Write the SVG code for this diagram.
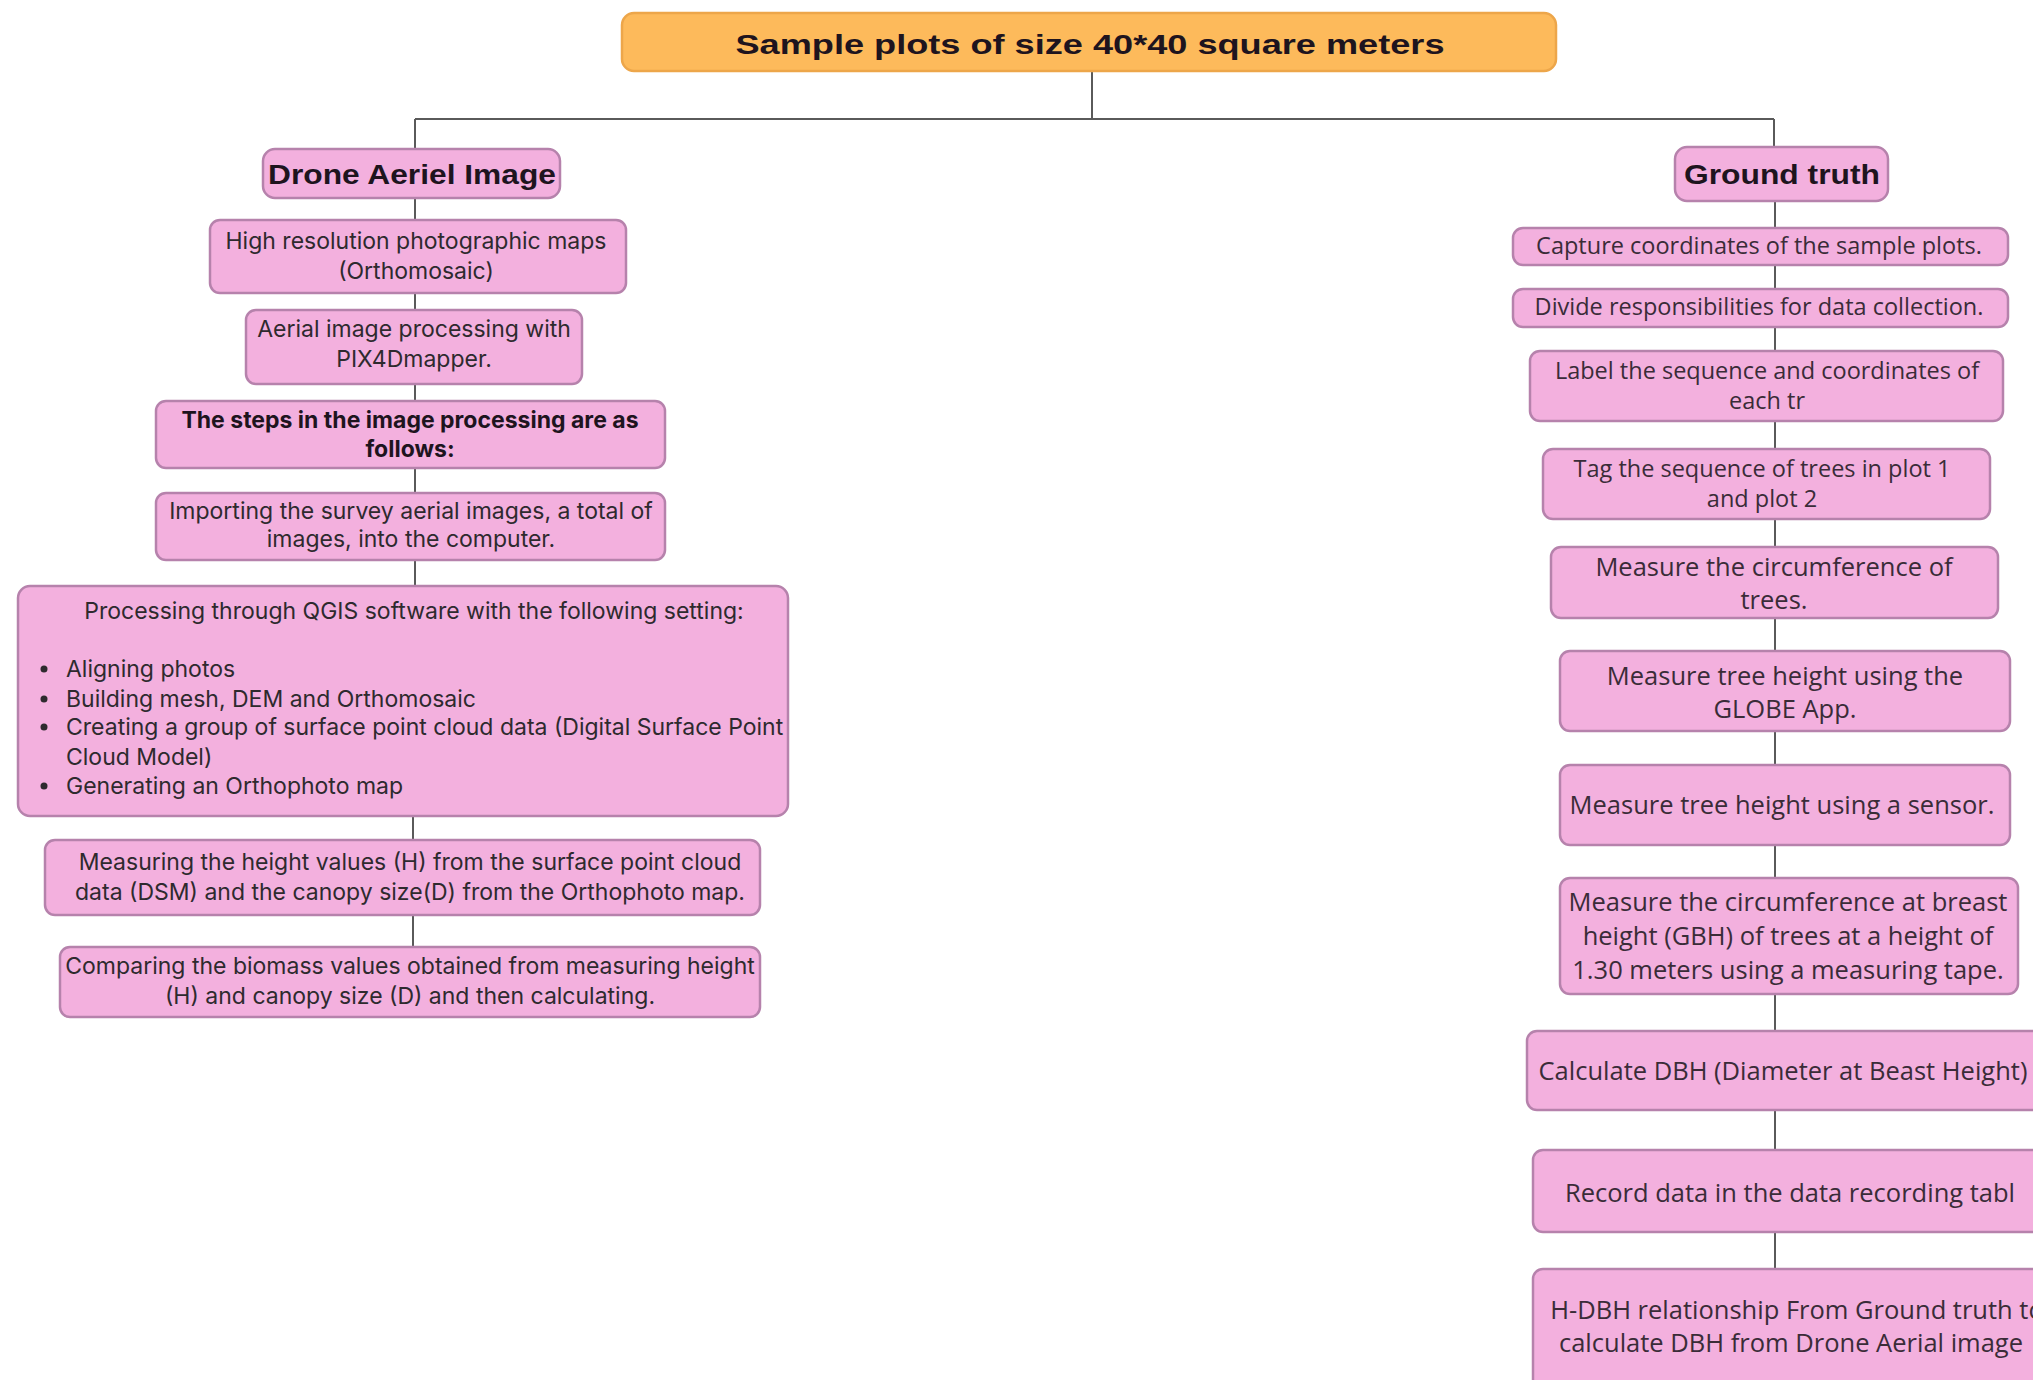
<svg xmlns="http://www.w3.org/2000/svg" width="2033" height="1380" viewBox="0 0 2033 1380">
<style>
.bg{fill:#ffffff}
.node{fill:#F3B0DE;stroke:#B682AC;stroke-width:2.5}
.top{fill:#FDBA5B;stroke:#EDA64A;stroke-width:2.5}
.conn{stroke:#5a5a5a;stroke-width:2;fill:none}
.t{font-family:Inter,"Liberation Sans",sans-serif;font-size:23px;fill:#2e2a2e;text-anchor:middle}
.tl{font-family:Inter,"Liberation Sans",sans-serif;font-size:23px;fill:#2e2a2e}
.r{font-family:"Open Sans","Liberation Sans",sans-serif;font-size:23.5px;fill:#3a2c38;text-anchor:middle}
.r2{font-family:"Open Sans","Liberation Sans",sans-serif;font-size:25.5px;fill:#3a2c38;text-anchor:middle}
.h{font-family:"Liberation Sans",Arial,sans-serif;font-weight:bold;font-size:28px;fill:#1e141e;text-anchor:middle}
.b{font-family:Inter,"Liberation Sans",sans-serif;font-weight:bold;font-size:23px;fill:#1e141e;text-anchor:middle}
</style>
<rect class="bg" x="0" y="0" width="2033" height="1380"/>
<g id="connectors">
<path class="conn" d="M1092 71 V119 M415 119 H1774 M415 119 V149 M1774 119 V147"/>
<path class="conn" d="M415 198 V220 M415 293 V310 M415 384 V401 M415 468 V493 M415 560 V586 M413 816 V840 M413 915 V947"/>
<path class="conn" d="M1775 201 V228 M1775 265 V289 M1775 327 V351 M1775 421 V449 M1775 519 V547 M1775 618 V651 M1775 731 V765 M1775 845 V878 M1775 994 V1031 M1775 1110 V1150 M1775 1232 V1269"/>
</g>
<g id="top">
<rect class="top" x="622" y="13" width="934" height="58" rx="12"/>
<text class="h" x="1090" y="54" font-size="31" textLength="709" lengthAdjust="spacingAndGlyphs">Sample plots of size 40*40 square meters</text>
</g>
<g id="drone">
<rect class="node" x="263" y="149" width="297" height="49" rx="12"/>
<text class="h" x="412" y="184" font-size="29" textLength="288" lengthAdjust="spacingAndGlyphs">Drone Aeriel Image</text>
</g>
<g id="l1">
<rect class="node" x="210" y="220" width="416" height="73" rx="10"/>
<text class="t" x="416" y="249">High resolution photographic maps</text>
<text class="t" x="416" y="279">(Orthomosaic)</text>
</g>
<g id="l2">
<rect class="node" x="246" y="310" width="336" height="74" rx="10"/>
<text class="t" x="414" y="337">Aerial image processing with</text>
<text class="t" x="414" y="367">PIX4Dmapper.</text>
</g>
<g id="l3">
<rect class="node" x="156" y="401" width="509" height="67" rx="10"/>
<text class="b" x="410" y="428">The steps in the image processing are as</text>
<text class="b" x="410" y="457">follows:</text>
</g>
<g id="l4">
<rect class="node" x="156" y="493" width="509" height="67" rx="10"/>
<text class="t" x="411" y="519">Importing the survey aerial images, a total of</text>
<text class="t" x="411" y="547">images, into the computer.</text>
</g>
<g id="l5">
<rect class="node" x="18" y="586" width="770" height="230" rx="12"/>
<text class="t" x="414" y="619">Processing through QGIS software with the following setting:</text>
<circle cx="44" cy="669" r="3.5" fill="#2e2a2e"/>
<circle cx="44" cy="699" r="3.5" fill="#2e2a2e"/>
<circle cx="44" cy="727" r="3.5" fill="#2e2a2e"/>
<circle cx="44" cy="786" r="3.5" fill="#2e2a2e"/>
<text class="tl" x="66" y="677">Aligning photos</text>
<text class="tl" x="66" y="707">Building mesh, DEM and Orthomosaic</text>
<text class="tl" x="66" y="735">Creating a group of surface point cloud data (Digital Surface Point</text>
<text class="tl" x="66" y="765">Cloud Model)</text>
<text class="tl" x="66" y="794">Generating an Orthophoto map</text>
</g>
<g id="l6">
<rect class="node" x="45" y="840" width="715" height="75" rx="10"/>
<text class="t" x="410" y="870">Measuring the height values (H) from the surface point cloud</text>
<text class="t" x="410" y="900">data (DSM) and the canopy size(D) from the Orthophoto map.</text>
</g>
<g id="l7">
<rect class="node" x="60" y="947" width="700" height="70" rx="10"/>
<text class="t" x="410" y="974">Comparing the biomass values obtained from measuring height</text>
<text class="t" x="410" y="1004">(H) and canopy size (D) and then calculating.</text>
</g>
<g id="ground">
<rect class="node" x="1675" y="147" width="213" height="54" rx="12"/>
<text class="h" x="1782" y="184" font-size="29" textLength="196" lengthAdjust="spacingAndGlyphs">Ground truth</text>
</g>
<g id="r1">
<rect class="node" x="1513" y="228" width="495" height="37" rx="10"/>
<text class="r" x="1759" y="254">Capture coordinates of the sample plots.</text>
</g>
<g id="r2">
<rect class="node" x="1513" y="289" width="495" height="38" rx="10"/>
<text class="r" x="1759" y="315">Divide responsibilities for data collection.</text>
</g>
<g id="r3">
<rect class="node" x="1530" y="351" width="473" height="70" rx="10"/>
<text class="r" x="1767" y="379">Label the sequence and coordinates of</text>
<text class="r" x="1767" y="409">each tr</text>
</g>
<g id="r4">
<rect class="node" x="1543" y="449" width="447" height="70" rx="10"/>
<text class="r" x="1762" y="477">Tag the sequence of trees in plot 1</text>
<text class="r" x="1762" y="507">and plot 2</text>
</g>
<g id="r5">
<rect class="node" x="1551" y="547" width="447" height="71" rx="10"/>
<text class="r2" x="1774" y="576">Measure the circumference of</text>
<text class="r2" x="1774" y="609">trees.</text>
</g>
<g id="r6">
<rect class="node" x="1560" y="651" width="450" height="80" rx="10"/>
<text class="r2" x="1785" y="685">Measure tree height using the</text>
<text class="r2" x="1785" y="718">GLOBE App.</text>
</g>
<g id="r7">
<rect class="node" x="1560" y="765" width="450" height="80" rx="10"/>
<text class="r2" x="1782" y="814">Measure tree height using a sensor.</text>
</g>
<g id="r8">
<rect class="node" x="1560" y="878" width="458" height="116" rx="10"/>
<text class="r2" x="1788" y="911">Measure the circumference at breast</text>
<text class="r2" x="1788" y="945">height (GBH) of trees at a height of</text>
<text class="r2" x="1788" y="979">1.30 meters using a measuring tape.</text>
</g>
<g id="r9">
<rect class="node" x="1527" y="1031" width="530" height="79" rx="10"/>
<text class="r2" x="1783" y="1080">Calculate DBH (Diameter at Beast Height)</text>
</g>
<g id="r10">
<rect class="node" x="1533" y="1150" width="524" height="82" rx="10"/>
<text class="r2" x="1790" y="1202">Record data in the data recording tabl</text>
</g>
<g id="r11">
<rect class="node" x="1533" y="1269" width="524" height="130" rx="10"/>
<text class="r2" x="1797" y="1319">H-DBH relationship From Ground truth to</text>
<text class="r2" x="1791" y="1352">calculate DBH from Drone Aerial image</text>
</g>
</svg>
